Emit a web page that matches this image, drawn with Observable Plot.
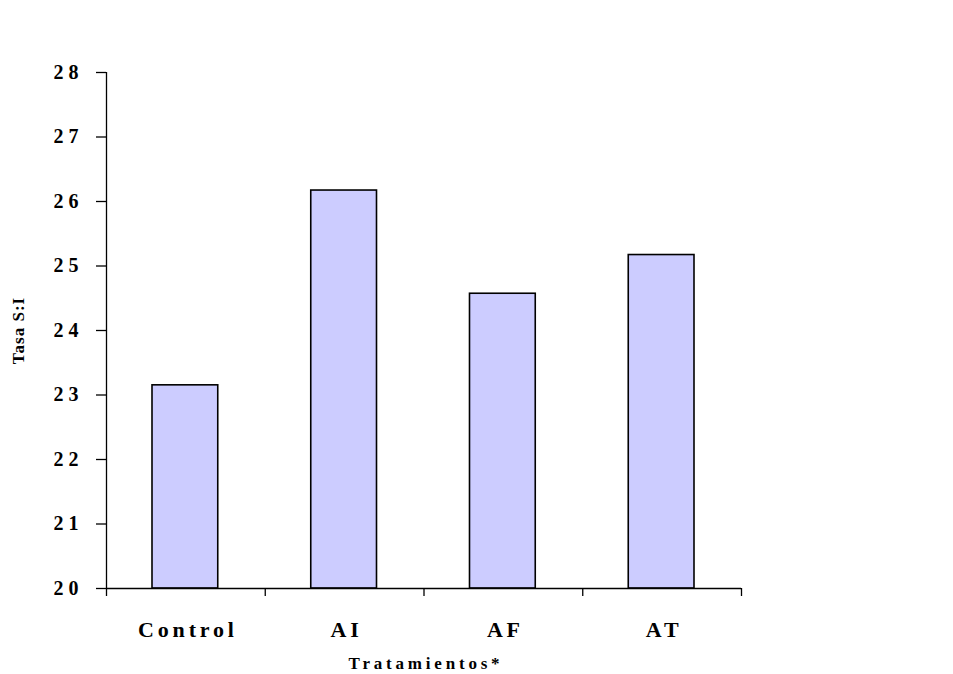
<!DOCTYPE html>
<html>
<head>
<meta charset="utf-8">
<script src="https://cdn.jsdelivr.net/npm/d3@7"></script>
<script src="https://cdn.jsdelivr.net/npm/@observablehq/plot@0.6"></script>
<style>
  html, body { margin: 0; padding: 0; background: #fff; }
  #chart svg { font-family: "Liberation Serif", "Times New Roman", serif; }
</style>
</head>
<body>
<div id="chart"></div>
<script>
const categories = ["Control", "AI", "AF", "AT"];
const values = [23.15, 26.17, 24.57, 25.17];
const yTicks = [20, 21, 22, 23, 24, 25, 26, 27, 28];
const xTitle = "Tratamientos*";
const yTitle = "Tasa S:I";

const data = categories.map((c, i) => ({cat: c, i, value: values[i]}));
const boundaries = d3.range(categories.length + 1);
const yMid = (yTicks[0] + yTicks[yTicks.length - 1]) / 2;

const chart = Plot.plot({
  width: 953,
  height: 674,
  marginLeft: 106,
  marginRight: 212,
  marginTop: 72,
  marginBottom: 86,
  style: {fontFamily: "Liberation Serif, serif", background: "#fff"},
  x: {type: "linear", domain: [0, categories.length]},
  y: {type: "linear", domain: [20, 28]},
  marks: [
    Plot.rectY(data, {
      x1: d => d.i, x2: d => d.i + 1, y1: 20, y2: "value",
      insetLeft: 46, insetRight: 47,
      fill: "#ccccff", stroke: "#000", strokeWidth: 1.6
    }),
    // y axis line and ticks
    Plot.axisY({ticks: yTicks, tickSize: 10, tickFormat: () => "", label: null, stroke: "#000", strokeWidth: 1.3}),
    Plot.ruleX([0], {y1: 20, y2: 28, stroke: "#000", strokeWidth: 1.3}),
    // x axis line and boundary ticks
    Plot.axisX({ticks: boundaries, tickSize: 8, tickFormat: () => "", label: null, stroke: "#000", strokeWidth: 1.3}),
    Plot.ruleY([20], {x1: 0, x2: categories.length, stroke: "#000", strokeWidth: 1.3}),
    // y tick labels
    Plot.text(yTicks, {
      ariaDescription: "ytick", x: 0, y: d => d, text: d => String(d),
      textAnchor: "end", dx: -23, fontSize: 20, fontWeight: "bold", fill: "#000"
    }),
    // x category labels
    Plot.text(data, {
      ariaDescription: "xcat", x: d => d.i + 0.5, y: 20, text: "cat",
      dy: 41, dx: 2, fontSize: 22, fontWeight: "bold", fill: "#000"
    }),
    // x title
    Plot.text([xTitle], {
      ariaDescription: "xtitle", x: categories.length / 2, y: 20, text: d => d,
      dy: 75, dx: 2, fontSize: 17, fontWeight: "bold", fill: "#000"
    }),
    // y title
    Plot.text([yTitle], {
      ariaDescription: "ytitle", x: 0, y: yMid, text: d => d,
      rotate: -90, dx: -88, fontSize: 17, fontWeight: "bold", fill: "#000"
    })
  ]
});
const svg = d3.select(chart);
const spacing = {ytick: "5px", xcat: "3.8px", xtitle: "3.8px", ytitle: "1px"};
svg.selectAll("g[aria-description]").each(function() {
  const key = this.getAttribute("aria-description");
  if (spacing[key]) d3.select(this).selectAll("text").style("letter-spacing", spacing[key]);
});
document.getElementById("chart").appendChild(chart);
</script>
</body>
</html>
